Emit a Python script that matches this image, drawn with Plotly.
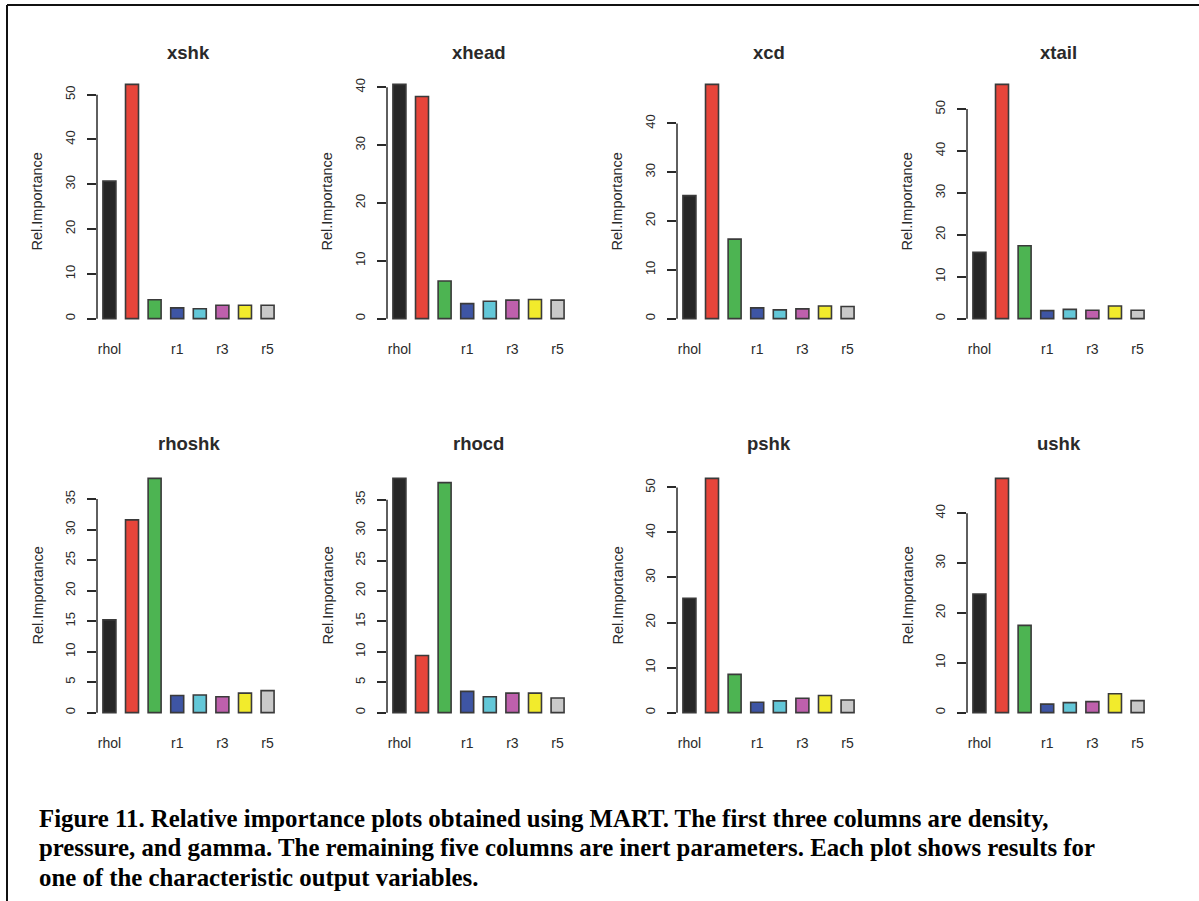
import plotly.graph_objects as go

# ---------------- data ----------------
panel_names = ["xshk", "xhead", "xcd", "xtail", "rhoshk", "rhocd", "pshk", "ushk"]
categories = ["rhol", "pl", "gamma", "r1", "r2", "r3", "r4", "r5"]
shown_labels = ["rhol", "r1", "r3", "r5"]

xshk = [30.7, 52.3, 4.2, 2.4, 2.2, 3.0, 3.0, 3.0]
xhead = [40.5, 38.4, 6.5, 2.6, 3.0, 3.2, 3.3, 3.2]
xcd = [25.2, 48.0, 16.3, 2.2, 1.8, 2.0, 2.6, 2.5]
xtail = [15.8, 55.9, 17.4, 1.9, 2.2, 2.0, 3.0, 2.0]
rhoshk = [15.2, 31.6, 38.4, 2.8, 2.9, 2.6, 3.2, 3.6]
rhocd = [38.5, 9.4, 37.8, 3.5, 2.6, 3.2, 3.2, 2.4]
pshk = [25.4, 52.0, 8.5, 2.3, 2.6, 3.2, 3.8, 2.8]
ushk = [23.8, 47.0, 17.5, 1.7, 2.0, 2.2, 3.8, 2.4]
panel_values = [xshk, xhead, xcd, xtail, rhoshk, rhocd, pshk, ushk]
tick_steps = [10, 10, 10, 10, 5, 5, 10, 10]

caption_lines = [
    "Figure 11. Relative importance plots obtained using MART. The first three columns are density,",
    "pressure, and gamma. The remaining five columns are inert parameters. Each plot shows results for",
    "one of the characteristic output variables.",
]

# ---------------- style ----------------
bar_colors = ["#272727", "#E7453A", "#4DB452", "#3E55A4", "#63C7D8", "#BE60AC", "#F2EB2C", "#C9C9C9"]
edge = "#3a3a3a"
ink = "#2a2a2a"
W, H = 1199, 901
sans = "Liberation Sans, Arial, sans-serif"
serif = "Liberation Serif, Times New Roman, serif"

col_left = [97, 387, 677, 967]
panel_w = 183
row_top = [75, 469]
row_bot = [328, 722]
title_y = [52, 443]

fig = go.Figure()
annotations = []
shapes = []

for i, (name, vals, step) in enumerate(zip(panel_names, panel_values, tick_steps)):
    r, c = divmod(i, 4)
    s = "" if i == 0 else str(i + 1)
    x0 = col_left[c]
    x1 = x0 + panel_w
    xd = [x0 / W, x1 / W]
    yd = [1 - row_bot[r] / H, 1 - row_top[r] / H]
    m = max(vals)
    maxtick = int(m // step) * step
    ticks = list(range(0, maxtick + 1, step))

    fig.add_trace(go.Bar(
        x=categories, y=vals, xaxis="x" + s, yaxis="y" + s,
        marker=dict(color=bar_colors, line=dict(color=edge, width=1.6)),
        showlegend=False, hoverinfo="x+y",
    ))

    fig.update_layout({
        "xaxis" + s: dict(
            domain=xd, anchor="y" + s, type="category",
            range=[-0.55, len(categories) - 1 + 0.55],
            tickmode="array", tickvals=shown_labels, ticktext=shown_labels,
            ticks="", showline=False, showgrid=False, zeroline=False,
            tickfont=dict(family=sans, size=14, color=ink),
            ticklabelstandoff=11,
        ),
        "yaxis" + s: dict(
            domain=yd, anchor="x" + s,
            range=[-0.04 * m, 1.04 * m],
            tickmode="array", tickvals=ticks, ticktext=[str(t) for t in ticks],
            tickangle=-90, ticks="outside", ticklen=9, tickwidth=1.5, tickcolor=ink,
            showline=False, showgrid=False, zeroline=False,
            tickfont=dict(family=sans, size=13, color=ink),
            ticklabelstandoff=7,
        ),
    })

    # R-style axis line from 0 to the last tick
    shapes.append(dict(type="line", xref="x" + s + " domain", yref="y" + s,
                       x0=0, x1=0, y0=0, y1=maxtick,
                       line=dict(color=ink, width=1.5)))

    annotations.append(dict(
        text="<b>" + name + "</b>", xref="paper", yref="paper",
        x=(x0 + x1) / 2 / W, y=1 - title_y[r] / H,
        xanchor="center", yanchor="middle", showarrow=False,
        font=dict(family=sans, size=18.5, color=ink),
    ))
    annotations.append(dict(
        text="Rel.Importance", xref="paper", yref="paper",
        x=(x0 - 60) / W, y=(yd[0] + yd[1]) / 2,
        xanchor="center", yanchor="middle", textangle=-90, showarrow=False,
        font=dict(family=sans, size=14.5, color=ink),
    ))

cap_y = [818, 847, 877]
for line, yy in zip(caption_lines, cap_y):
    annotations.append(dict(
        text="<b>" + line + "</b>", xref="paper", yref="paper",
        x=37 / W, y=1 - yy / H, xanchor="left", yanchor="middle",
        showarrow=False, font=dict(family=serif, size=24.8, color="#000000"),
    ))

# page crop border (left and top)
shapes.append(dict(type="line", xref="paper", yref="paper",
                   x0=7 / W, x1=7 / W, y0=0, y1=1 - 5 / H,
                   line=dict(color="#111111", width=2)))
shapes.append(dict(type="line", xref="paper", yref="paper",
                   x0=7 / W, x1=1, y0=1 - 5 / H, y1=1 - 5 / H,
                   line=dict(color="#111111", width=2)))

fig.update_layout(
    width=W, height=H, margin=dict(l=0, r=0, t=0, b=0),
    paper_bgcolor="white", plot_bgcolor="white",
    bargap=0.425, annotations=annotations, shapes=shapes,
    showlegend=False,
)

fig.write_html("out.html")
